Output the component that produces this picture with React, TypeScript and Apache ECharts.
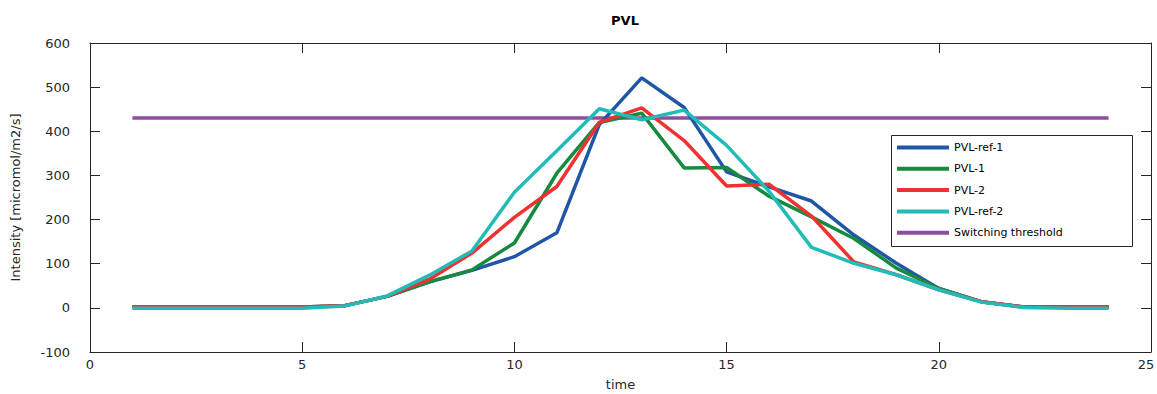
import React, { useEffect, useRef } from "react";
import * as echarts from "echarts";

const hours = [1, 2, 3, 4, 5, 6, 7, 8, 9, 10, 11, 12, 13, 14, 15, 16, 17, 18, 19, 20, 21, 22, 23, 24];
const pvlRef1 = [2, 2, 2, 2, 2, 5, 26, 59, 85, 116, 170, 415, 521, 454, 308, 274, 242, 165, 101, 44, 14, 2, 2, 2];
const pvl1 = [2, 2, 2, 2, 2, 5, 26, 59, 86, 147, 305, 420, 441, 317, 318, 253, 206, 157, 90, 44, 14, 2, 2, 2];
const pvl2 = [2, 2, 2, 2, 2, 5, 26, 65, 124, 205, 275, 420, 453, 379, 276, 280, 208, 104, 75, 41, 14, 2, 2, 2];
const pvlRef2 = [-1, -1, -1, -1, -1, 4, 27, 74, 129, 262, 356, 451, 426, 448, 368, 264, 137, 101, 75, 41, 13, 1, -1, -1];
const thresholdX = [1, 24];
const thresholdValue = 430;

const seriesNames = ["PVL-ref-1", "PVL-1", "PVL-2", "PVL-ref-2", "Switching threshold"];
const seriesColors = ["#1f56a6", "#168a3f", "#ee3232", "#22bcb8", "#8e4d9f"];

const FONT = "DejaVu Sans, Verdana, sans-serif";

export default function App() {
  const ref = useRef<HTMLDivElement>(null);
  useEffect(() => {
    if (!ref.current) return;
    document.body.style.margin = "0";
    document.body.style.overflow = "hidden";
    const chart = echarts.init(ref.current, undefined, { renderer: "svg", width: 1157, height: 394 });
    const pair = (xs: number[], ys: number[]) => xs.map((x, i) => [x, ys[i]]);
    const dataSets = [
      pair(hours, pvlRef1),
      pair(hours, pvl1),
      pair(hours, pvl2),
      pair(hours, pvlRef2),
      thresholdX.map((x) => [x, thresholdValue]),
    ];
    const axisCommon = {
      axisLine: { show: true, onZero: false, lineStyle: { color: "#262626", width: 1 } },
      axisTick: { show: true, inside: true, length: 10, lineStyle: { color: "#262626" } },
      splitLine: { show: false },
    };
    chart.setOption({
      animation: false,
      title: {
        text: "PVL",
        left: 620,
        top: 9,
        textAlign: "center",
        textStyle: { fontFamily: FONT, fontSize: 13, fontWeight: "bold", color: "#000" },
      },
      grid: { left: 90, right: 6, top: 43, bottom: 42, containLabel: false, outerBoundsMode: "none" },
      xAxis: [
        {
          type: "value",
          min: 0,
          max: 25,
          interval: 5,
          name: "time",
          nameLocation: "middle",
          nameGap: 26,
          nameTextStyle: { fontFamily: FONT, fontSize: 13, color: "#262626" },
          axisLabel: {
            fontFamily: FONT,
            fontSize: 13,
            color: "#262626",
            margin: 6,
            formatter: (v: number) => (v === 25 ? "{r|25}" : String(v)),
            rich: { r: { fontFamily: FONT, fontSize: 13, color: "#262626", padding: [0, 10, 0, 0] } },
          },
          ...axisCommon,
        },
        {
          type: "value",
          position: "top",
          min: 0,
          max: 25,
          interval: 5,
          axisLabel: { show: false },
          ...axisCommon,
        },
      ],
      yAxis: [
        {
          type: "value",
          min: -100,
          max: 600,
          interval: 100,
          name: "Intensity [micromol/m2/s]",
          nameLocation: "middle",
          nameGap: 68,
          nameTextStyle: { fontFamily: FONT, fontSize: 13, color: "#262626" },
          axisLabel: { fontFamily: FONT, fontSize: 13, color: "#262626", margin: 20, padding: [0, 0, 8, 0] },
          ...axisCommon,
        },
        {
          type: "value",
          position: "right",
          min: -100,
          max: 600,
          interval: 100,
          axisLabel: { show: false },
          ...axisCommon,
        },
      ],
      legend: {
        orient: "vertical",
        left: 897,
        top: 142,
        padding: 0,
        itemWidth: 52,
        itemHeight: 4,
        itemGap: 10.3,
        icon: "rect",
        textStyle: { fontFamily: FONT, fontSize: 11, color: "#000", padding: [0, 0, 8, 0] },
        data: seriesNames,
      },
      graphic: [
        {
          type: "rect",
          shape: { x: 891.5, y: 135.5, width: 241, height: 111 },
          style: { fill: "rgba(0,0,0,0)", stroke: "#262626", lineWidth: 1 },
          z: 1,
        },
      ],
      series: seriesNames.map((name, i) => ({
        name,
        type: "line",
        data: dataSets[i],
        showSymbol: false,
        symbol: "none",
        lineStyle: { width: 3.5, color: seriesColors[i] },
        itemStyle: { color: seriesColors[i] },
        z: i === 4 ? 1 : 2 + i,
      })),
    });
    return () => chart.dispose();
  }, []);
  return <div ref={ref} style={{ width: 1157, height: 394, background: "#fff" }} />;
}
